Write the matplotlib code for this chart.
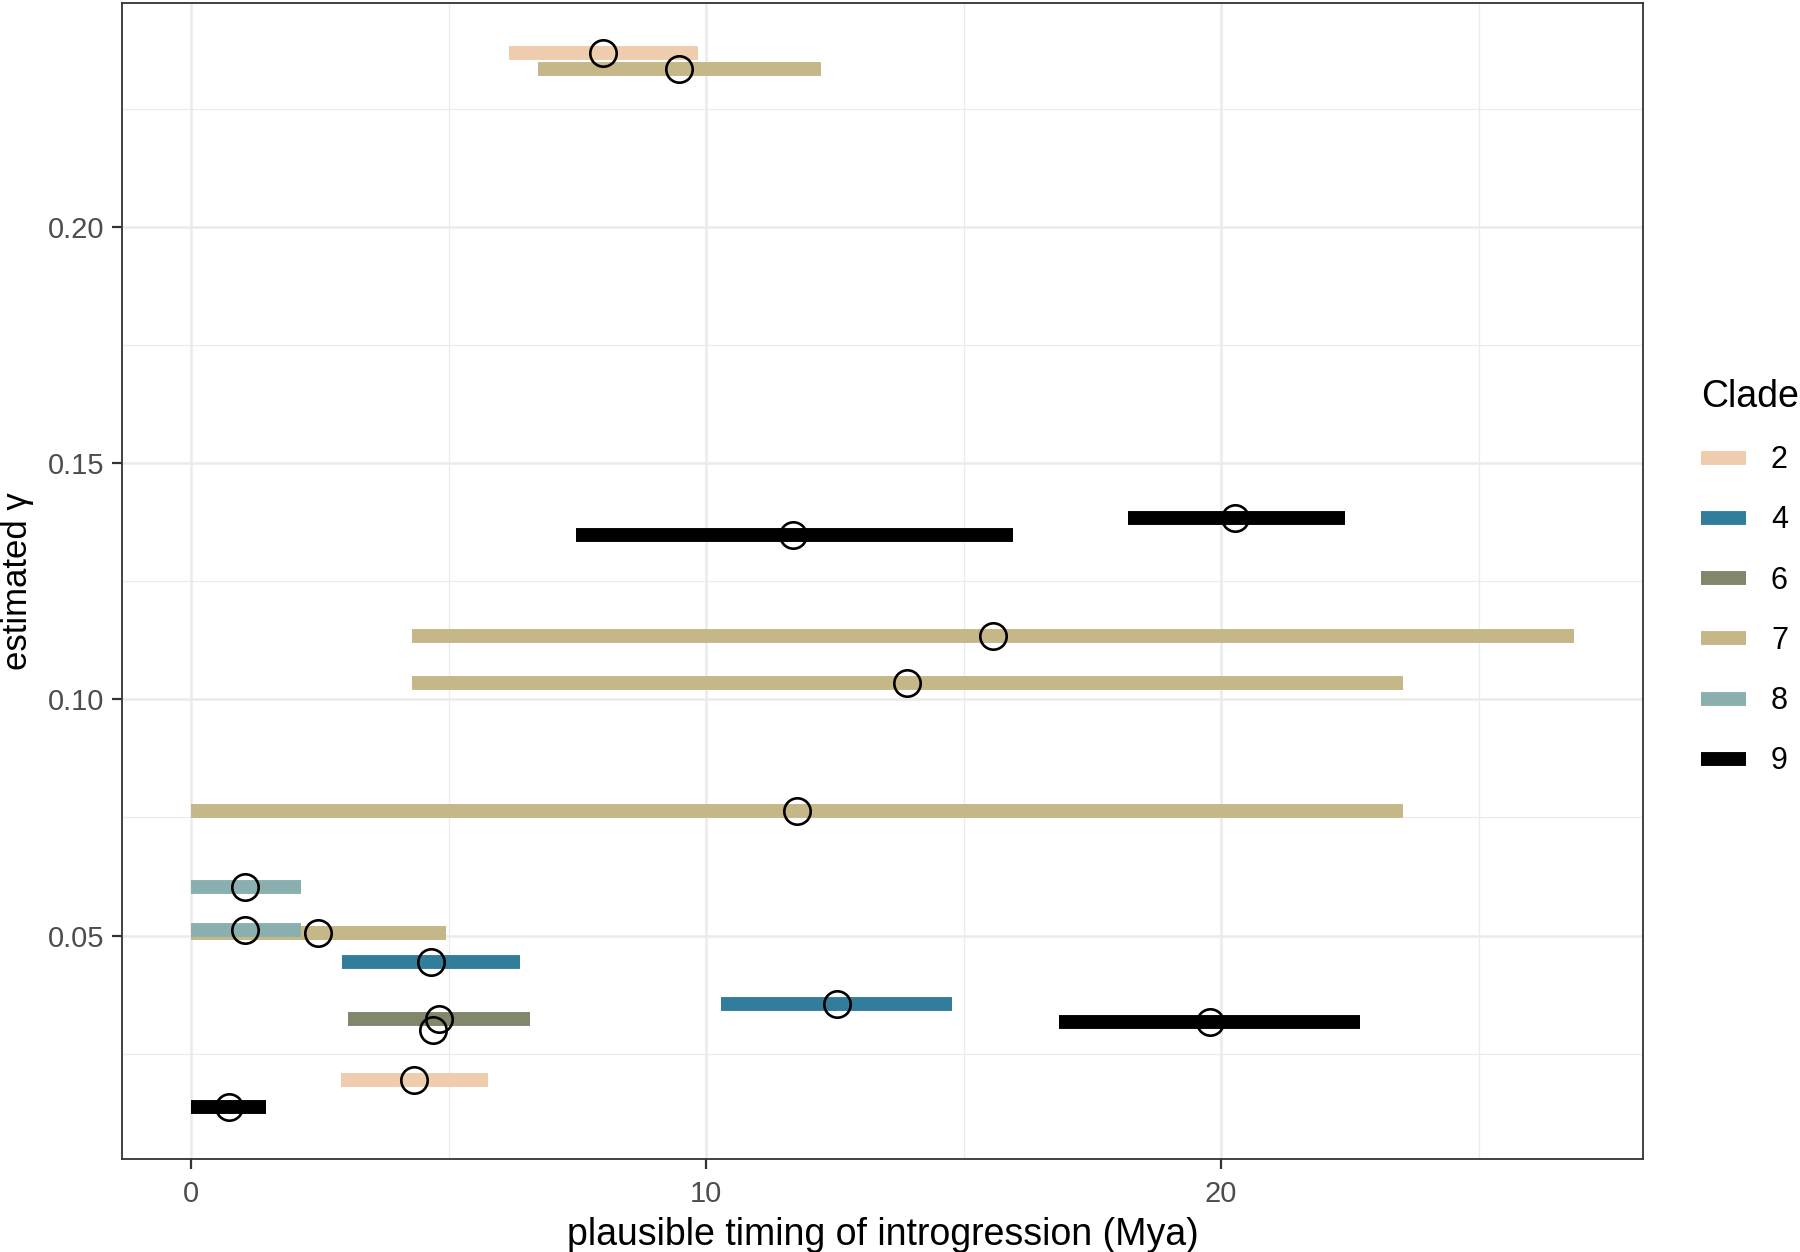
import matplotlib
matplotlib.use("Agg")
import matplotlib.pyplot as plt
from matplotlib.lines import Line2D
from matplotlib.ticker import MultipleLocator

plt.rcParams['font.family'] = ['Liberation Sans', 'DejaVu Sans']

# introgression intervals (Mya) and estimated gamma, one row per segment
seg_clade = [2, 2, 4, 4, 6, 7, 7, 7, 7, 7, 7, 8, 8, 9, 9, 9, 9]
seg_start = [6.17, 2.90, 2.92, 10.29, 3.05, 6.73, 4.28, 4.28, 0.0, 0.0, 0.0, 0.0, 0.0, 7.48, 18.20, 16.86, 0.0]
seg_end = [9.84, 5.77, 6.39, 14.77, 6.57, 12.23, 26.86, 23.54, 23.54, 4.94, 4.94, 2.14, 2.14, 15.95, 22.40, 22.70, 1.45]
seg_gamma = [0.2369, 0.0194, 0.0444, 0.0354, 0.0323, 0.2335, 0.1135, 0.1035, 0.0763, 0.0505, 0.0505, 0.0602, 0.0512, 0.1349, 0.1385, 0.0316, 0.0136]

# point estimates of timing
pt_time = [8.0, 4.32, 4.65, 12.54, 4.81, 4.70, 9.47, 15.57, 13.9, 11.76, 2.47, 1.05, 1.05, 11.69, 20.27, 19.78, 0.73]
pt_gamma = [0.2369, 0.0194, 0.0444, 0.0354, 0.0323, 0.0299, 0.2335, 0.1135, 0.1035, 0.0763, 0.0505, 0.0602, 0.0512, 0.1349, 0.1385, 0.0316, 0.0136]

clades = [2, 4, 6, 7, 8, 9]
clade_colors = {2: '#F0CCAE', 4: '#327D9C', 6: '#81876A', 7: '#C5B788', 8: '#89B0AE', 9: '#000000'}

fig = plt.figure(figsize=(18, 12.52), dpi=100)
ax = fig.add_axes([0.0678, 0.074, 0.8452, 0.924])

for c, x0, x1, g in zip(seg_clade, seg_start, seg_end, seg_gamma):
    ax.plot([x0, x1], [g, g], color=clade_colors[c], lw=10, solid_capstyle='butt', zorder=3)

ax.plot(pt_time, pt_gamma, 'o', ms=19, mfc='none', mec='black', mew=1.9, zorder=4)

ax.set_xlim(-1.345, 28.2)
ax.set_ylim(0.0026, 0.2476)
ax.xaxis.set_major_locator(MultipleLocator(10))
ax.xaxis.set_minor_locator(MultipleLocator(5))
ax.yaxis.set_minor_locator(MultipleLocator(0.025))
ax.set_yticks([0.05, 0.10, 0.15, 0.20])
ax.set_yticklabels(['0.05', '0.10', '0.15', '0.20'])

ax.grid(True, which='major', color='#EBEBEB', lw=1.8, zorder=0)
ax.grid(True, which='minor', color='#EBEBEB', lw=0.9, zorder=0)
ax.set_axisbelow(True)
for s in ax.spines.values():
    s.set_color('#333333')
    s.set_linewidth(1.3)
ax.tick_params(which='major', length=7, width=1.6, color='#333333', labelsize=21, labelcolor='#4D4D4D', pad=6)
ax.tick_params(axis='x', which='major', pad=8)
ax.tick_params(which='minor', length=0)

ax.set_xlabel('plausible timing of introgression (Mya)', fontsize=27, labelpad=6)
ax.set_ylabel('estimated γ', fontsize=25, labelpad=10)

handles = [Line2D([], [], color=clade_colors[c], lw=10, solid_capstyle='butt') for c in clades]
leg = fig.legend(handles, [str(c) for c in clades], title='Clade', loc='upper left',
                 bbox_to_anchor=(0.9414, 0.7022), frameon=False, fontsize=22,
                 title_fontsize=27, handlelength=1.5, labelspacing=0.99, handletextpad=0.8,
                 alignment='left', borderaxespad=0, borderpad=0.2)

fig.savefig('out.png', dpi=100)
